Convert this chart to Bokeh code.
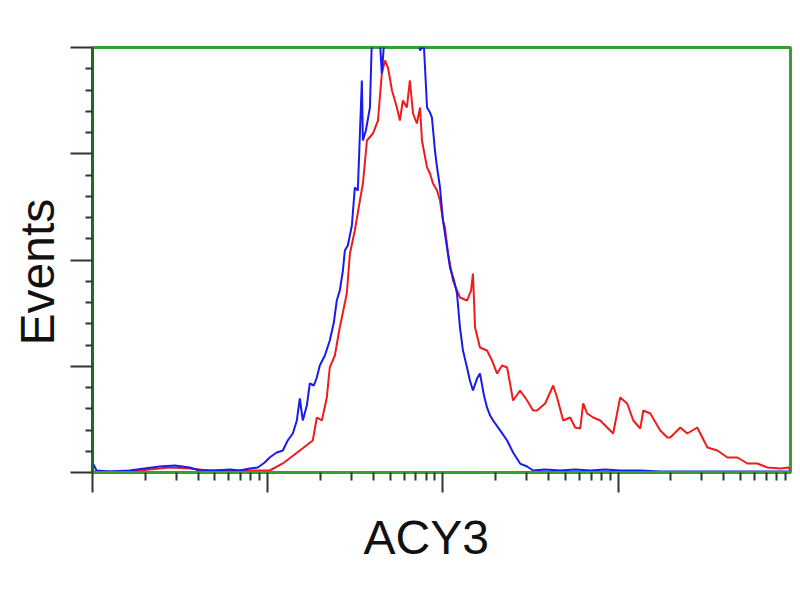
from bokeh.plotting import figure
from bokeh.models import Range1d, FixedTicker, Title
from bokeh.embed import file_html
from bokeh.resources import INLINE

# Fluorescence axis positions (log10 decades) and event counts (% of full scale)
blue_log = [0.0, 0.023, 0.097, 0.211, 0.297, 0.383, 0.469, 0.554, 0.611, 0.697, 0.783, 0.84,
            0.897, 0.943, 0.983, 1.011, 1.051, 1.086, 1.114, 1.143, 1.166, 1.183, 1.2, 1.223,
            1.24, 1.263, 1.28, 1.297, 1.326, 1.354, 1.377, 1.394, 1.411, 1.429, 1.44, 1.457,
            1.48, 1.497, 1.514, 1.537, 1.543, 1.56, 1.583, 1.594, 1.617, 1.64, 1.651, 1.669,
            1.726, 1.783, 1.84, 1.869, 1.891, 1.909, 1.926, 1.937, 1.954, 1.966, 1.983, 2.0,
            2.011, 2.023, 2.04, 2.063, 2.08, 2.097, 2.114, 2.137, 2.154, 2.171, 2.194, 2.211,
            2.234, 2.251, 2.269, 2.286, 2.326, 2.366, 2.4, 2.44, 2.48, 2.514, 2.583, 2.669,
            2.754, 2.84, 2.926, 3.011, 3.126, 3.24, 3.469, 3.754, 3.983]
blue_events = [2.35, 0.47, 0.24, 0.47, 0.94, 1.41, 1.65, 1.18, 0.47, 0.47, 0.71, 0.47,
               0.94, 1.18, 2.35, 3.53, 4.7, 5.18, 7.53, 9.18, 12.24, 17.41, 12.24, 15.76,
               20.94, 20.47, 22.35, 25.18, 27.53, 31.06, 35.29, 40.47, 42.82, 47.53, 52.24, 53.41,
               58.12, 67.06, 66.35, 92.24, 78.12, 80.47, 85.88, 101.6, 102.8, 101.6, 93.88, 104.0,
               106.4, 107.5, 105.2, 99.3, 100.5, 85.88, 84.7, 83.5, 75.8, 71.8, 67.06, 59.3,
               56.2, 52.9, 48.2, 45.2, 42.1, 34.1, 28.7, 24.7, 21.6, 19.3, 22.1, 23.3,
               18.1, 15.3, 13.4, 12.24, 9.9, 7.53, 4.7, 2.1, 1.41, 0.47, 0.71, 0.47,
               0.71, 0.47, 0.71, 0.47, 0.47, 0.24, 0.24, 0.24, 0.24]

red_log = [0.0, 0.211, 0.326, 0.44, 0.554, 0.669, 0.783, 0.897, 0.983, 1.011, 1.086, 1.183,
           1.257, 1.28, 1.309, 1.337, 1.354, 1.383, 1.411, 1.451, 1.469, 1.497, 1.526, 1.543,
           1.566, 1.6, 1.629, 1.651, 1.669, 1.686, 1.709, 1.737, 1.754, 1.771, 1.794, 1.811,
           1.829, 1.851, 1.869, 1.88, 1.909, 1.926, 1.943, 1.966, 1.983, 2.0, 2.011, 2.029,
           2.057, 2.08, 2.097, 2.137, 2.16, 2.171, 2.183, 2.211, 2.251, 2.28, 2.309, 2.337,
           2.366, 2.4, 2.44, 2.48, 2.514, 2.537, 2.583, 2.629, 2.651, 2.686, 2.726, 2.754,
           2.783, 2.8, 2.823, 2.857, 2.897, 2.954, 2.971, 3.011, 3.051, 3.086, 3.126, 3.143,
           3.183, 3.24, 3.28, 3.297, 3.354, 3.394, 3.451, 3.509, 3.566, 3.623, 3.68, 3.737,
           3.794, 3.851, 3.926, 3.971, 3.983]
red_events = [0.24, 0.24, 0.71, 1.18, 0.94, 0.47, 0.47, 0.47, 0.47, 0.47, 2.12, 5.18,
              7.53, 12.94, 12.24, 17.65, 24.71, 27.53, 34.12, 42.12, 51.53, 56.94, 64.0, 68.0,
              78.12, 79.76, 82.82, 93.88, 96.94, 95.29, 89.88, 85.88, 82.82, 87.53, 85.88, 92.24,
              84.47, 82.12, 85.88, 78.12, 71.76, 70.35, 68.0, 66.35, 64.0, 59.29, 57.65, 51.53,
              45.18, 42.82, 41.18, 40.47, 42.82, 46.82, 34.12, 29.41, 28.71, 26.35, 23.29, 25.18,
              24.71, 16.94, 19.29, 16.94, 14.59, 14.59, 16.24, 20.47, 17.65, 12.24, 12.94, 10.59,
              10.35, 16.24, 13.88, 12.94, 12.24, 9.88, 9.18, 17.65, 16.24, 12.24, 10.35, 14.59,
              13.88, 9.88, 8.24, 8.24, 10.59, 9.18, 10.59, 5.88, 5.18, 3.53, 3.53, 2.12,
              2.12, 1.18, 0.94, 1.18, 0.47]

y_major = [0, 25, 50, 75, 100]
y_minor = [v for v in range(0, 101, 5) if v % 25 != 0]
x_major = [1, 10, 100, 1000, 10000]
x_minor = [m * 10 ** k for k in range(4) for m in range(2, 10)]

GREEN = "#33a033"
DARK_GREEN = "#1f6b1f"
TICK = "#333333"

p = figure(width=792, height=592, x_axis_type="log",
           x_range=Range1d(1, 10 ** 3.983), y_range=Range1d(0, 100),
           output_backend="svg", toolbar_location=None,
           min_border_left=92, min_border_right=2, min_border_top=47,
           min_border_bottom=120)

p.xgrid.visible = False
p.ygrid.visible = False
p.background_fill_color = "white"
p.border_fill_color = "white"
p.outline_line_color = GREEN
p.outline_line_width = 3

p.xaxis.ticker = FixedTicker(ticks=x_major, minor_ticks=x_minor)
p.yaxis.ticker = FixedTicker(ticks=y_major, minor_ticks=y_minor)
p.xaxis.major_label_overrides = {v: "" for v in x_major}
p.yaxis.major_label_overrides = {v: "" for v in y_major}
for ax in (p.xaxis, p.yaxis):
    ax.major_label_text_font_size = "1px"
    ax.major_label_standoff = 0
    ax.major_tick_in = 0
    ax.minor_tick_in = 0
    ax.major_tick_line_color = TICK
    ax.minor_tick_line_color = TICK
    ax.major_tick_line_width = 2
    ax.minor_tick_line_width = 2
    ax.axis_line_width = 3
p.xaxis.axis_line_color = GREEN
p.yaxis.axis_line_color = DARK_GREEN
p.xaxis.major_tick_out = 20
p.xaxis.minor_tick_out = 8
p.yaxis.major_tick_out = 22
p.yaxis.minor_tick_out = 7

x_title = Title(text="ACY3", align="left", offset=271, standoff=32,
                text_font="Liberation Sans", text_font_size="48px",
                text_font_style="normal", text_color="#111111")
y_title = Title(text="Events", align="left", offset=127, standoff=14,
                text_font="Liberation Sans", text_font_size="48px",
                text_font_style="normal", text_color="#111111")
p.add_layout(x_title, "below")
p.add_layout(y_title, "left")

p.line([10 ** d for d in red_log], red_events, line_color="#ee1c1c", line_width=2)
p.line([10 ** d for d in blue_log], blue_events, line_color="#1a1aee", line_width=2)

open("out.html", "w").write(file_html(p, INLINE))
